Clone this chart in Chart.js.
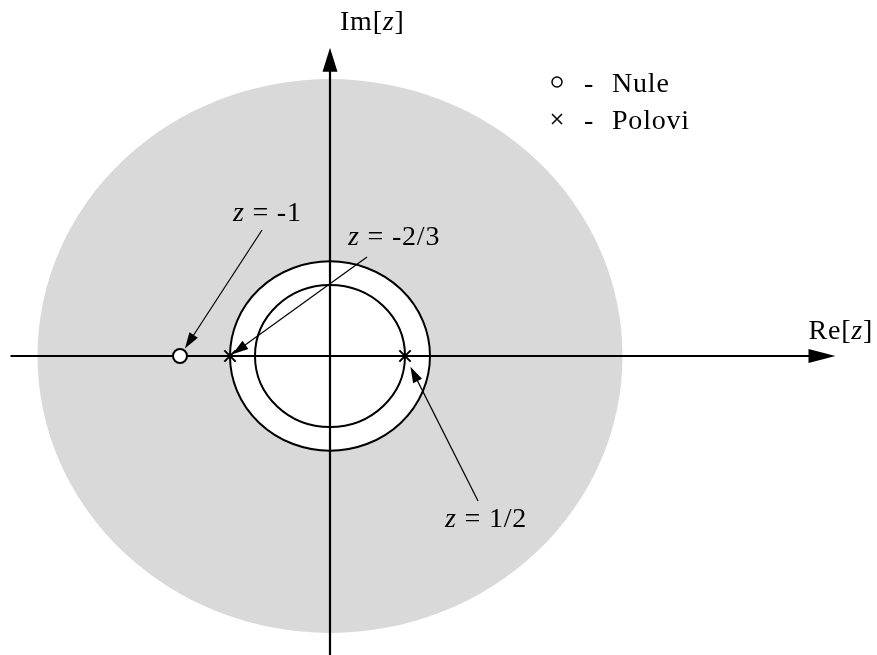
<!DOCTYPE html>
<html>
<head>
<meta charset="utf-8">
<title>Im[z] / Re[z]</title>
<script src="https://cdn.jsdelivr.net/npm/chart.js@4.4.1/dist/chart.umd.min.js"></script>
<style>
  html, body { margin: 0; padding: 0; background: #ffffff; }
  #wrap { width: 877px; height: 655px; }
</style>
</head>
<body>
<div id="wrap"><canvas id="zplane" width="877" height="655"></canvas></div>
<script>
// Zeros and poles on the real axis of the z-plane
const reZeros = [-1];
const rePoles = [-2 / 3, 1 / 2];
// Circles |z| = r : the region boundary and the inner circle through the pole at 1/2
const ringRadii = [2 / 3, 1 / 2];
// Extent of the shaded region of convergence
const shadeRadius = 1.95;
const seriesNames = ['Nule', 'Polovi'];
const noteValues = ['-1', '-2/3', '1/2'];
const axisNames = ['Re', 'Im'];

// Placement of the value notes (data units) and the arrow tails pointing at the marks
const notePlacement = [
  { text: [-0.647, 0.951], tail: [-0.453, 0.887], gap: 9, target: { x: reZeros[0], y: 0 } },
  { text: [0.120, 0.782], tail: [0.247, 0.697], gap: 3, target: { x: rePoles[0], y: 0 } },
  { text: [0.767, -1.204], tail: [0.987, -1.021], gap: 12, target: { x: rePoles[1], y: 0 } }
];
// Axis extents (data units)
const reAxis = [-2.13, 3.37];
const imAxis = [-2.11, 2.17];

const SERIF = '"Liberation Serif", "Times New Roman", serif';
const FONT_PX = 28;
const GREY = 'rgb(217,217,217)';

function drawRich(ctx, parts, x, y) {
  // parts: [[text, italic], ...] drawn left to right from baseline (x, y)
  let cx = x;
  for (const [t, it] of parts) {
    ctx.font = (it ? 'italic ' : '') + FONT_PX + 'px ' + SERIF;
    ctx.fillText(t, cx, y);
    cx += ctx.measureText(t).width;
  }
}

function arrowHead(ctx, tipX, tipY, fromX, fromY, len, half) {
  const a = Math.atan2(tipY - fromY, tipX - fromX);
  ctx.beginPath();
  ctx.moveTo(tipX, tipY);
  ctx.lineTo(tipX - len * Math.cos(a) + half * Math.sin(a), tipY - len * Math.sin(a) - half * Math.cos(a));
  ctx.lineTo(tipX - len * Math.cos(a) - half * Math.sin(a), tipY - len * Math.sin(a) + half * Math.cos(a));
  ctx.closePath();
  ctx.fill();
}

const zPlanePlugin = {
  id: 'zPlane',
  beforeDatasetsDraw(chart) {
    const { ctx, scales: { x, y } } = chart;
    const cx = x.getPixelForValue(0), cy = y.getPixelForValue(0);
    const rx = r => x.getPixelForValue(r) - cx;
    const ry = r => cy - y.getPixelForValue(r);
    ctx.save();
    // shaded region
    ctx.fillStyle = GREY;
    ctx.beginPath();
    ctx.ellipse(cx, cy, rx(shadeRadius), ry(shadeRadius), 0, 0, Math.PI * 2);
    ctx.fill();
    // excluded disc |z| < 2/3
    ctx.fillStyle = '#ffffff';
    ctx.beginPath();
    ctx.ellipse(cx, cy, rx(ringRadii[0]), ry(ringRadii[0]), 0, 0, Math.PI * 2);
    ctx.fill();
    ctx.strokeStyle = '#000000';
    ctx.lineWidth = 2;
    for (const r of ringRadii) {
      ctx.beginPath();
      ctx.ellipse(cx, cy, rx(r), ry(r), 0, 0, Math.PI * 2);
      ctx.stroke();
    }
    // axes with arrowheads
    ctx.fillStyle = '#000000';
    const x0 = x.getPixelForValue(reAxis[0]), x1 = x.getPixelForValue(reAxis[1]);
    const y0 = y.getPixelForValue(imAxis[0]), y1 = y.getPixelForValue(imAxis[1]);
    ctx.lineWidth = 2.2;
    ctx.beginPath();
    ctx.moveTo(x0, cy); ctx.lineTo(x1 - 20, cy);
    ctx.moveTo(cx, y0); ctx.lineTo(cx, y1 + 20);
    ctx.stroke();
    arrowHead(ctx, x1, cy, x0, cy, 27, 7);
    arrowHead(ctx, cx, y1, cx, y0, 24, 7.5);
    ctx.restore();
  },
  afterDatasetsDraw(chart) {
    const { ctx, scales: { x, y } } = chart;
    const cx = x.getPixelForValue(0), cy = y.getPixelForValue(0);
    ctx.save();
    ctx.fillStyle = '#000000';
    ctx.strokeStyle = '#000000';
    ctx.textBaseline = 'alphabetic';
    ctx.textAlign = 'left';
    ctx.letterSpacing = '0.8px';

    // axis titles
    drawRich(ctx, [[axisNames[0] + '[', false], ['z', true], [']', false]], x.getPixelForValue(reAxis[1]) - 27, cy - 17);
    drawRich(ctx, [[axisNames[1] + '[', false], ['z', true], [']', false]], cx + 10, y.getPixelForValue(imAxis[1]) - 18);

    // value notes with arrows
    notePlacement.forEach((n, i) => {
      const tx = x.getPixelForValue(n.text[0]), ty = y.getPixelForValue(n.text[1]);
      drawRich(ctx, [['z', true], [' = ' + noteValues[i], false]], tx, ty);
      const ax = x.getPixelForValue(n.tail[0]), ay = y.getPixelForValue(n.tail[1]);
      const mx = x.getPixelForValue(n.target.x), my = y.getPixelForValue(n.target.y);
      const d = Math.hypot(ax - mx, ay - my);
      const px = mx + (ax - mx) / d * n.gap, py = my + (ay - my) / d * n.gap;
      ctx.lineWidth = 1.2;
      ctx.beginPath();
      ctx.moveTo(ax, ay);
      ctx.lineTo(px + (ax - px) / d * 12, py + (ay - py) / d * 12);
      ctx.stroke();
      arrowHead(ctx, px, py, ax, ay, 16, 5);
    });

    // legend: open circle for zeros, cross for poles
    const legendX = 557, rows = [82, 119];
    chart.data.datasets.forEach((ds, i) => {
      ctx.lineWidth = 1.5;
      ctx.strokeStyle = '#000000';
      ctx.beginPath();
      if (i === 0) {
        ctx.fillStyle = '#ffffff';
        ctx.arc(legendX, rows[i], 5, 0, Math.PI * 2);
        ctx.fill();
        ctx.stroke();
      } else {
        const s = 5;
        ctx.moveTo(legendX - s, rows[i] - s); ctx.lineTo(legendX + s, rows[i] + s);
        ctx.moveTo(legendX + s, rows[i] - s); ctx.lineTo(legendX - s, rows[i] + s);
        ctx.stroke();
      }
      ctx.fillStyle = '#000000';
      ctx.font = FONT_PX + 'px ' + SERIF;
      ctx.fillText('-', 584, rows[i] + 10);
      ctx.fillText(ds.label, 612, rows[i] + 10);
    });
    ctx.restore();
  }
};

new Chart(document.getElementById('zplane'), {
  type: 'scatter',
  data: {
    datasets: [
      {
        label: seriesNames[0],
        data: reZeros.map(v => ({ x: v, y: 0 })),
        pointStyle: 'circle',
        pointRadius: 7,
        pointBackgroundColor: '#ffffff',
        pointBorderColor: '#000000',
        pointBorderWidth: 2
      },
      {
        label: seriesNames[1],
        data: rePoles.map(v => ({ x: v, y: 0 })),
        pointStyle: 'crossRot',
        pointRadius: 8,
        pointBorderColor: '#000000',
        pointBackgroundColor: '#000000',
        pointBorderWidth: 2
      }
    ]
  },
  options: {
    responsive: false,
    animation: false,
    layout: { padding: 0, autoPadding: false },
    plugins: { legend: { display: false }, tooltip: { enabled: false } },
    scales: {
      x: { type: 'linear', min: -2.2, max: 3.6467, display: false },
      y: { type: 'linear', min: -2.1056, max: 2.507, display: false }
    }
  },
  plugins: [zPlanePlugin]
});
</script>
</body>
</html>
